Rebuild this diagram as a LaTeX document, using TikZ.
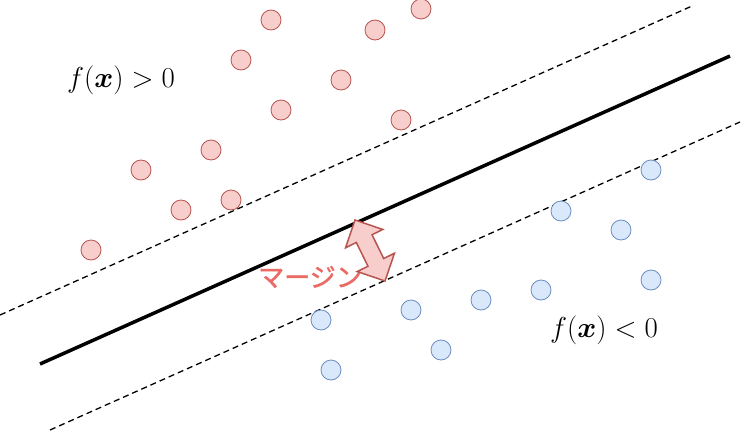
\documentclass[tikz,border=0pt]{standalone}
\usepackage{fontspec}
\newfontfamily\jpfont[FakeBold=1.5]{Noto Sans CJK JP}
\usepackage{bm}
\usetikzlibrary{shapes.arrows}
\definecolor{posfill}{HTML}{F8CECC}
\definecolor{posline}{HTML}{B85450}
\definecolor{negfill}{HTML}{DAE8FC}
\definecolor{negline}{HTML}{6C8EBF}
\definecolor{marginred}{HTML}{EA6B66}

\begin{document}
\begin{tikzpicture}[x=1pt, y=-1pt, posdot/.style={circle, draw=posline, fill=posfill, line width=0.8pt, minimum size=20pt, inner sep=0pt}, negdot/.style={circle, draw=negline, fill=negfill, line width=0.8pt, minimum size=20pt, inner sep=0pt}, bound/.style={line width=3.5pt}, marginline/.style={dashed, dash pattern=on 6pt off 4pt, line width=1.3pt}, lbl/.style={font=\Huge, scale=1.16}]
\useasboundingbox (0,0) rectangle (743,433);
% separating line and margins
\coordinate (b1) at (40,364); \coordinate (b2) at (730,56);
\coordinate (u1) at (0,315); \coordinate (u2) at (692,6);
\coordinate (l1) at (50,430); \coordinate (l2) at (740,122);
\draw[marginline] (u1) -- (u2); \draw[marginline] (l1) -- (l2); \draw[bound] (b1) -- (b2);
% positive samples
\node[posdot] (p1) at (271,20) {}; \node[posdot] (p2) at (375,30) {}; \node[posdot] (p3) at (421,9) {};
\node[posdot] (p4) at (241,60) {}; \node[posdot] (p5) at (341,80) {}; \node[posdot] (p6) at (281,110) {};
\node[posdot] (p7) at (401,120) {}; \node[posdot] (p8) at (211,150) {}; \node[posdot] (p9) at (141,170) {};
\node[posdot] (p10) at (181,210) {}; \node[posdot] (p11) at (231,200) {}; \node[posdot] (p12) at (91,250) {};
% negative samples
\node[negdot] (n1) at (651,170) {}; \node[negdot] (n2) at (561,211) {}; \node[negdot] (n3) at (621,230) {};
\node[negdot] (n4) at (651,280) {}; \node[negdot] (n5) at (541,290) {}; \node[negdot] (n6) at (481,300) {};
\node[negdot] (n7) at (411,310) {}; \node[negdot] (n8) at (321,320) {}; \node[negdot] (n9) at (441,350) {};
\node[negdot] (n10) at (331,370) {};
% labels
\node[lbl] (fpos) at (121,80) {$f(\bm{x}) > 0$};
\node[lbl] (fneg) at (604,330) {$f(\bm{x}) < 0$};
\node[font=\jpfont\fontsize{26}{30}\selectfont, text=marginred] (mlabel) at (310,277) {マージン};
\node[double arrow, draw=posline, fill=posfill, line width=1.5pt, minimum height=68pt, inner xsep=0pt, inner ysep=8pt, double arrow head extend=12pt, rotate=-63.8] (gap) at (370,250.5) {};
\end{tikzpicture}
\end{document}
